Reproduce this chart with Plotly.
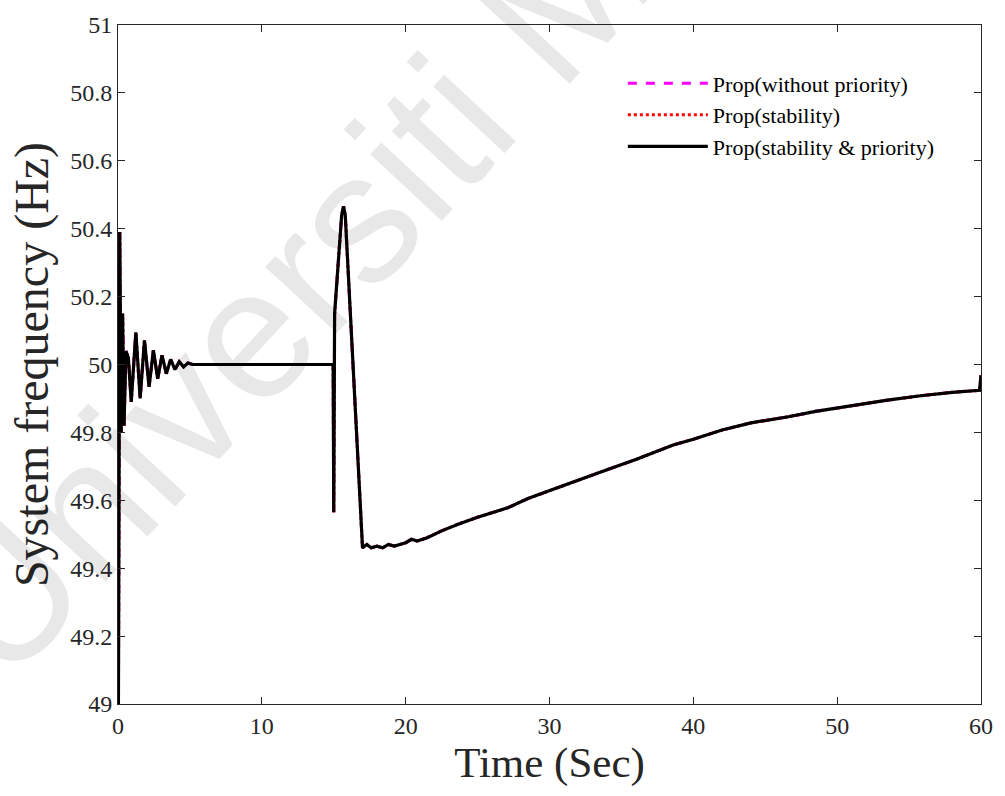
import plotly.graph_objects as go

# ---- data ----
time_s = [0, 0.03, 0.12, 0.22, 0.32, 0.42, 0.55, 0.72, 0.92, 1.24, 1.54, 1.84,
          2.16, 2.46, 2.76, 3.06, 3.36, 3.66, 3.96, 4.26, 4.56, 4.86, 5.2, 8, 12,
          14.96, 15.0, 15.06, 15.55, 15.68, 15.8, 16.85, 17.0, 17.3, 17.6, 18.0,
          18.4, 18.8, 19.2, 19.6, 20.0, 20.4, 20.8, 21.5, 22.5, 23.6, 25, 27.1,
          28.5, 30.5, 32, 34, 36, 38.6, 40, 42, 44, 46.6, 48.5, 51.2, 53.5, 55.8,
          58, 59.9, 60]
freq_stab_prio = [50.0, 49.0, 50.39, 49.8, 50.15, 49.82, 50.04, 50.02, 49.89,
                  50.095, 49.90, 50.071, 49.934, 50.042, 49.958, 50.027, 49.973,
                  50.015, 49.985, 50.008, 49.993, 50.004, 50.0, 50.0, 50.0,
                  50.0, 49.565, 50.15, 50.44, 50.466, 50.44, 49.55, 49.46, 49.47,
                  49.46, 49.465, 49.46, 49.47, 49.465, 49.47, 49.475, 49.485, 49.48,
                  49.49, 49.51, 49.529, 49.55, 49.578, 49.605, 49.636, 49.66, 49.69,
                  49.72, 49.763, 49.78, 49.807, 49.828, 49.846, 49.862, 49.881,
                  49.895, 49.908, 49.918, 49.924, 49.968]
freq_without_prio = list(freq_stab_prio)
freq_stability = list(freq_stab_prio)

series_names = ["Prop(without priority)", "Prop(stability)", "Prop(stability & priority)"]
x_ticks = [0, 10, 20, 30, 40, 50, 60]
y_ticks = [49, 49.2, 49.4, 49.6, 49.8, 50, 50.2, 50.4, 50.6, 50.8, 51]
y_tick_text = ["49", "49.2", "49.4", "49.6", "49.8", "50", "50.2", "50.4", "50.6", "50.8", "51"]

SERIF = "Liberation Serif, Times New Roman, serif"
AX = "#262626"

fig = go.Figure()
fig.add_trace(go.Scatter(x=time_s, y=freq_without_prio, mode="lines", name=series_names[0],
                         line=dict(color="#ff00ff", width=3, dash="dash")))
fig.add_trace(go.Scatter(x=time_s, y=freq_stability, mode="lines", name=series_names[1],
                         line=dict(color="#ff0000", width=3, dash="dot")))
fig.add_trace(go.Scatter(x=time_s, y=freq_stab_prio, mode="lines", name=series_names[2],
                         line=dict(color="#000000", width=3.2)))

axis_common = dict(showgrid=False, zeroline=False, showline=True, linecolor=AX, linewidth=1,
                   mirror="ticks", ticks="inside", ticklen=7, tickcolor=AX, tickwidth=1,
                   tickfont=dict(family=SERIF, size=24, color=AX))

fig.update_xaxes(range=[0, 60], tickvals=x_ticks,
                 title=dict(text="Time (Sec)", font=dict(family=SERIF, size=43, color=AX), standoff=6),
                 **axis_common)
fig.update_yaxes(range=[49, 51], tickvals=y_ticks, ticktext=y_tick_text,
                 title=dict(text="System frequency (Hz)", font=dict(family=SERIF, size=48, color=AX), standoff=6),
                 **axis_common)

fig.add_annotation(text="Universiti Malaya", xref="paper", yref="paper", x=0.372, y=0.845,
                   xanchor="center", yanchor="middle",
                   showarrow=False, textangle=-47,
                   font=dict(family="Liberation Sans, Arial, sans-serif", size=185, color="rgba(0,0,0,0.09)"))

fig.update_layout(
    width=1005, height=796,
    margin=dict(l=118, r=18, t=21, b=92),
    paper_bgcolor="white", plot_bgcolor="white",
    legend=dict(x=0.585, y=0.945, xanchor="left", yanchor="top", bgcolor="rgba(0,0,0,0)",
                font=dict(family=SERIF, size=22, color="#000000"), tracegroupgap=0,
                itemwidth=80),
    showlegend=True,
)

fig.write_html("out.html")
